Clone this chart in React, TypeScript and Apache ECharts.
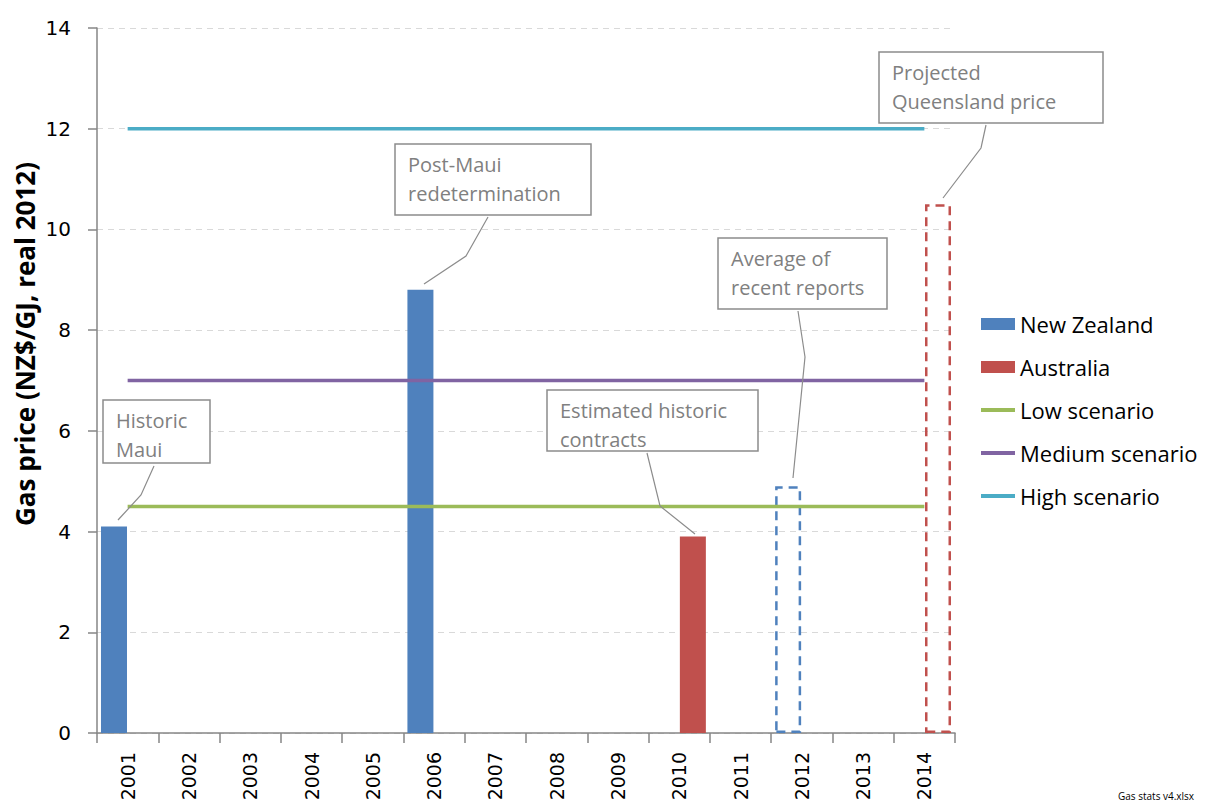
import React, { useEffect, useRef } from "react";
import * as echarts from "echarts";

const years = ["2001", "2002", "2003", "2004", "2005", "2006", "2007", "2008", "2009", "2010", "2011", "2012", "2013", "2014"];
const newZealand = [4.1, null, null, null, null, 8.8, null, null, null, null, null, null, null, null];
const newZealandProjected = [null, null, null, null, null, null, null, null, null, null, null, 4.9, null, null];
const australia = [null, null, null, null, null, null, null, null, null, 3.9, null, null, null, null];
const australiaProjected = [null, null, null, null, null, null, null, null, null, null, null, null, null, 10.5];
const lowScenario = [4.5, 4.5, 4.5, 4.5, 4.5, 4.5, 4.5, 4.5, 4.5, 4.5, 4.5, 4.5, 4.5, 4.5];
const mediumScenario = [7, 7, 7, 7, 7, 7, 7, 7, 7, 7, 7, 7, 7, 7];
const highScenario = [12, 12, 12, 12, 12, 12, 12, 12, 12, 12, 12, 12, 12, 12];
const yTicks = { min: 0, max: 14, interval: 2 };

const notes = [
  { text: "Historic\nMaui", box: [103, 400, 107, 63], leader: [[154, 466], [141, 495], [118, 520]] },
  { text: "Post-Maui\nredetermination", box: [395, 144, 196, 71], leader: [[488, 217], [466, 256], [424, 284]] },
  { text: "Average of\nrecent reports", box: [718, 238, 169, 71], leader: [[798, 311], [805, 357], [793, 478]] },
  { text: "Estimated historic\ncontracts", box: [547, 390, 211, 61], leader: [[647, 453], [660, 506], [695, 534]] },
  { text: "Projected\nQueensland price", box: [879, 52, 224, 71], leader: [[986, 125], [981, 148], [943, 198]] },
];

const NZ = "#4F81BD";
const AU = "#C0504D";
const LOW = "#9BBB59";
const MED = "#8064A2";
const HIGH = "#4BACC6";
const SANS = "'Open Sans', 'Noto Sans', sans-serif";
const AXISF = "'DejaVu Sans', Verdana, sans-serif";
const LINE_ICON = "path://M0,0H34V4H0Z";

export default function App() {
  const ref = useRef<HTMLDivElement>(null);
  useEffect(() => {
    if (!ref.current) return;
    const chart = echarts.init(ref.current, null, { renderer: "svg" });
    const graphics: any[] = [];
    notes.forEach((n) => {
      const [x, y, w, h] = n.box;
      graphics.push({
        type: "polyline",
        z: 100,
        shape: { points: n.leader },
        style: { stroke: "#8C8C8C", lineWidth: 1.2, fill: null },
      });
      graphics.push({
        type: "rect",
        z: 101,
        shape: { x, y, width: w, height: h },
        style: { fill: "#ffffff", stroke: "#8C8C8C", lineWidth: 1.5 },
      });
      graphics.push({
        type: "text",
        z: 102,
        x: x + 13,
        y: y + 6,
        style: {
          text: n.text,
          fill: "#808080",
          fontSize: 20,
          fontFamily: SANS,
          lineHeight: 29,
          verticalAlign: "top",
          align: "left",
        },
      });
    });
    graphics.push({
      type: "text",
      z: 100,
      x: 25,
      y: 344,
      rotation: Math.PI / 2,
      style: {
        text: "Gas price (NZ$/GJ, real 2012)",
        fill: "#000",
        fontSize: 26,
        fontWeight: "bold",
        fontFamily: SANS,
        align: "center",
        verticalAlign: "middle",
      },
    });
    graphics.push({
      type: "text",
      z: 100,
      x: 1118,
      y: 791,
      style: { text: "Gas stats v4.xlsx", fill: "#000", fontSize: 10, fontFamily: SANS, verticalAlign: "top" },
    });

    const dashedBar = (color: string) => ({
      color: "rgba(0,0,0,0)",
      borderColor: color,
      borderWidth: 2.5,
      borderType: [9, 6],
    });

    chart.setOption({
      animation: false,
      grid: { left: 97, right: 258, top: 28, bottom: 72, containLabel: false },
      legend: {
        orient: "vertical",
        left: 981,
        top: 313,
        padding: 0,
        itemWidth: 34,
        itemHeight: 12,
        itemGap: 21,
        textStyle: { fontSize: 22, fontFamily: SANS, color: "#000", lineHeight: 22 },
        data: [
          { name: "New Zealand", icon: "rect" },
          { name: "Australia", icon: "rect" },
          { name: "Low scenario", icon: LINE_ICON },
          { name: "Medium scenario", icon: LINE_ICON },
          { name: "High scenario", icon: LINE_ICON },
        ],
      },
      xAxis: {
        type: "category",
        data: years,
        boundaryGap: true,
        axisLine: { lineStyle: { color: "#868686", width: 1.5 } },
        axisTick: { show: true, length: 10, lineStyle: { color: "#868686", width: 1.5 } },
        axisLabel: { rotate: 90, margin: 19, fontSize: 19, fontFamily: AXISF, color: "#000" },
        splitLine: { show: false },
      },
      yAxis: {
        type: "value",
        min: yTicks.min,
        max: yTicks.max,
        interval: yTicks.interval,
        axisLine: { show: true, lineStyle: { color: "#868686", width: 1.5 } },
        axisTick: { show: true, length: 9, lineStyle: { color: "#868686", width: 1.5 } },
        axisLabel: { margin: 26, fontSize: 20, fontFamily: AXISF, color: "#000" },
        splitLine: { show: true, lineStyle: { color: "#D9D9D9", type: [6, 5], width: 1 } },
      },
      graphic: { elements: graphics },
      series: [
        {
          name: "New Zealand",
          type: "bar",
          stack: "nz",
          data: newZealand,
          barWidth: 26,
          barGap: "5%",
          itemStyle: { color: NZ },
        },
        {
          name: "New Zealand projected",
          type: "bar",
          stack: "nz",
          data: newZealandProjected,
          barWidth: 26,
          barGap: "5%",
          itemStyle: dashedBar(NZ),
        },
        {
          name: "Australia",
          type: "bar",
          stack: "au",
          data: australia,
          barWidth: 26,
          barGap: "5%",
          itemStyle: { color: AU },
        },
        {
          name: "Australia projected",
          type: "bar",
          stack: "au",
          data: australiaProjected,
          barWidth: 26,
          barGap: "5%",
          itemStyle: dashedBar(AU),
        },
        {
          name: "Low scenario",
          type: "line",
          data: lowScenario,
          symbol: "none",
          itemStyle: { color: LOW },
          lineStyle: { color: LOW, width: 3.5 },
        },
        {
          name: "Medium scenario",
          type: "line",
          data: mediumScenario,
          symbol: "none",
          itemStyle: { color: MED },
          lineStyle: { color: MED, width: 3.5 },
        },
        {
          name: "High scenario",
          type: "line",
          data: highScenario,
          symbol: "none",
          itemStyle: { color: HIGH },
          lineStyle: { color: HIGH, width: 3.5 },
        },
      ],
    });
    return () => chart.dispose();
  }, []);
  return (
    <div
      ref={ref}
      style={{ position: "fixed", left: 0, top: 0, width: 1213, height: 805, background: "#fff" }}
    />
  );
}
